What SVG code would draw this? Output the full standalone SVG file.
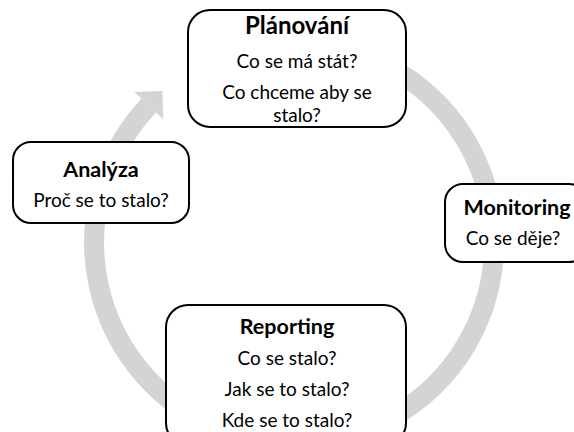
<svg xmlns="http://www.w3.org/2000/svg" width="574" height="432" viewBox="0 0 574 432">
  <style>
    .box { fill: #ffffff; stroke: #000000; stroke-width: 2; }
    .title { font-family: "Lato", "Liberation Sans", sans-serif; font-weight: bold; font-size: 21.5px; fill: #000000; text-anchor: middle; }
    .big { font-size: 24px; }
    .body { font-family: "Lato", "Liberation Sans", sans-serif; font-size: 19px; fill: #000000; text-anchor: middle; }
    .ring { fill: none; stroke: #d4d4d4; stroke-width: 20; }
    .head { fill: #d4d4d4; }
  </style>
  <rect width="574" height="432" fill="#ffffff"/>

  <!-- circular cycle arrow running behind the stages -->
  <g id="connectors">
    <path class="ring" d="M 225.6 55 A 200 200 0 1 1 148.7 105.6"/>
    <polygon class="head" points="134.2,91.9 162.4,91.1 163.2,119.3"/>
  </g>

  <g id="planovani">
    <rect class="box" x="188" y="10" width="218" height="117" rx="22"/>
    <text class="title big" x="297" y="34">Plánování</text>
    <text class="body" x="297" y="68">Co se má stát?</text>
    <text class="body" x="297" y="99">Co chceme aby se</text>
    <text class="body" x="297" y="122">stalo?</text>
  </g>

  <g id="monitoring">
    <rect class="box" x="445" y="184" width="142" height="78" rx="18"/>
    <text class="title" x="517" y="215">Monitoring</text>
    <text class="body" x="513" y="245">Co se děje?</text>
  </g>

  <g id="reporting">
    <rect class="box" x="166" y="305" width="240" height="140" rx="22"/>
    <text class="title" x="287" y="334">Reporting</text>
    <text class="body" x="287" y="365">Co se stalo?</text>
    <text class="body" x="287" y="396">Jak se to stalo?</text>
    <text class="body" x="287" y="427">Kde se to stalo?</text>
  </g>

  <g id="analyza">
    <rect class="box" x="13" y="142" width="176" height="81" rx="18"/>
    <text class="title" x="101" y="177">Analýza</text>
    <text class="body" x="101" y="207">Proč se to stalo?</text>
  </g>
</svg>
